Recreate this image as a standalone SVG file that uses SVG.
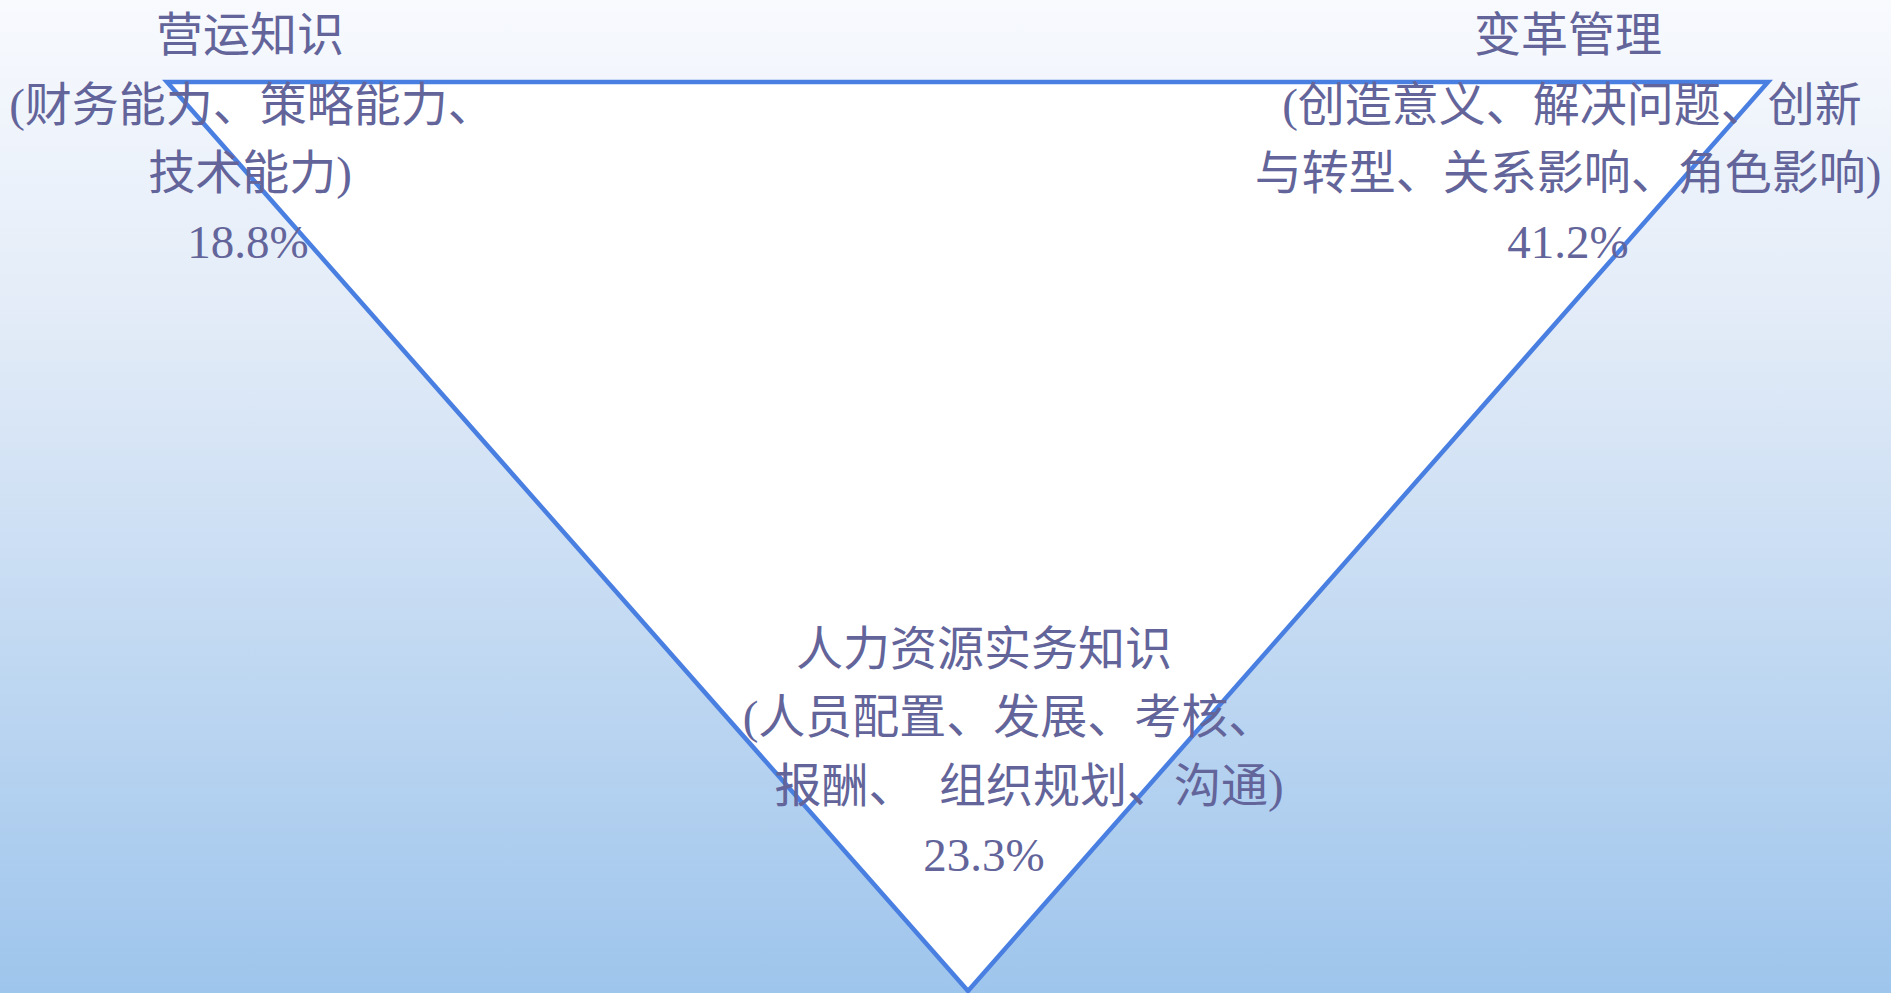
<svg xmlns="http://www.w3.org/2000/svg" width="1891" height="993" viewBox="0 0 1891 993">
<defs>
<linearGradient id="bg" x1="0" y1="0" x2="0" y2="1">
<stop offset="0" stop-color="#f8fafe"/>
<stop offset="0.35" stop-color="#e0eaf7"/>
<stop offset="1" stop-color="#9ec5ec"/>
</linearGradient>
<style>
.t{font-family:"Liberation Serif","Noto Sans CJK SC",serif;font-size:47px;fill:#62649a;text-anchor:middle}
.tri{fill:#ffffff;stroke:#4a7fe2;stroke-width:4.5;stroke-linejoin:miter}
</style>
</defs>
<rect x="0" y="0" width="1891" height="993" fill="url(#bg)"/>
<g id="connectors">
<polygon id="triangle" class="tri" points="167,82 1768,82 968,991"/>
</g>
<g id="node-ops">
<text class="t" x="250" y="51">营运知识</text>
<text class="t" x="252" y="121">(财务能力、策略能力、</text>
<text class="t" x="250" y="189">技术能力)</text>
<text class="t" x="248" y="258">18.8%</text>
</g>
<g id="node-change">
<text class="t" x="1568" y="51">变革管理</text>
<text class="t" x="1572" y="121">(创造意义、解决问题、创新</text>
<text class="t" x="1568" y="189">与转型、关系影响、角色影响)</text>
<text class="t" x="1568" y="258">41.2%</text>
</g>
<g id="node-hr">
<text class="t" x="984" y="665">人力资源实务知识</text>
<text class="t" x="1009" y="733">(人员配置、发展、考核、</text>
<text class="t" x="1029" y="802">报酬、　组织规划、沟通)</text>
<text class="t" x="984" y="871">23.3%</text>
</g>
</svg>
